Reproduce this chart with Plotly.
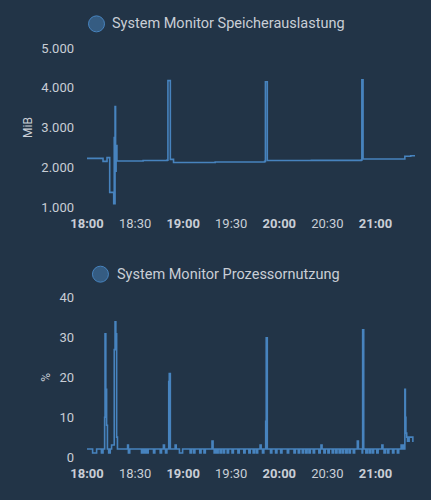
import plotly.graph_objs as go

DAY = "2024-01-01 "
BG = "#223447"
LINE_BLUE = "#4783be"
TEXT = "#c9ced6"

# memory usage (MiB)
MEM_TIME = ["18:00:00", "18:10:00", "18:12:30", "18:14:10", "18:16:40", "18:17:00", "18:17:10",
            "18:17:30", "18:17:50", "18:18:10", "18:18:40", "18:35:00", "18:50:00", "18:50:30",
            "18:52:00", "18:54:00", "19:20:00", "19:50:50", "19:51:20", "19:52:30", "20:20:00",
            "20:51:00", "20:51:30", "20:52:15", "21:18:20", "21:22:00", "21:24:40"]
MEM_VALUE = [2225, 2150, 2245, 1370, 1085, 2750, 1085,
             3530, 1900, 2550, 2160, 2170, 2180, 4180,
             2200, 2120, 2135, 2150, 4150, 2170, 2175,
             2180, 4200, 2210, 2280, 2290, 2300]

# processor usage (%)
CPU_TIME = ["18:00:00", "18:03:30", "18:06:00", "18:09:00", "18:10:00", "18:11:00", "18:11:15",
            "18:11:45", "18:12:15", "18:12:45", "18:13:30", "18:14:30", "18:15:20", "18:17:00",
            "18:17:30", "18:18:00", "18:18:30", "18:19:00", "18:25:20", "18:25:50", "18:26:40",
            "18:34:00", "18:34:50", "18:35:40", "18:36:30", "18:37:20", "18:38:10", "18:41:30",
            "18:42:20", "18:45:40", "18:46:30", "18:47:40", "18:48:20", "18:49:00", "18:49:50",
            "18:51:00", "18:51:20", "18:52:00", "18:55:00", "18:55:40", "18:57:40", "18:59:40",
            "19:04:20", "19:05:10", "19:06:30", "19:07:20", "19:10:20", "19:11:10", "19:13:00",
            "19:13:50", "19:18:00", "19:18:40", "19:19:20", "19:20:10", "19:21:00", "19:21:50",
            "19:23:00", "19:23:50", "19:25:00", "19:25:50", "19:27:30", "19:28:20", "19:30:30",
            "19:31:20", "19:34:10", "19:35:00", "19:37:50", "19:38:40", "19:41:00", "19:41:50",
            "19:43:40", "19:44:30", "19:45:40", "19:46:30", "19:48:00", "19:48:40", "19:49:30",
            "19:50:20", "19:51:30", "19:51:50", "19:52:30", "19:54:30", "19:55:20", "19:57:40",
            "19:58:30", "20:00:50", "20:01:40", "20:05:00", "20:05:50", "20:09:10", "20:10:00",
            "20:11:50", "20:12:40", "20:14:20", "20:15:10", "20:16:30", "20:17:20", "20:18:30",
            "20:19:20", "20:21:10", "20:22:00", "20:24:40", "20:25:30", "20:26:00", "20:26:40",
            "20:27:50", "20:28:40", "20:30:20", "20:31:10", "20:33:00", "20:33:50", "20:35:10",
            "20:36:00", "20:37:20", "20:38:10", "20:39:20", "20:40:10", "20:41:30", "20:42:20",
            "20:43:30", "20:44:20", "20:46:10", "20:47:00", "20:48:40", "20:49:20", "20:51:40",
            "20:52:00", "20:52:40", "20:54:00", "20:54:50", "20:56:00", "20:56:50", "20:58:00",
            "20:58:50", "21:00:50", "21:01:40", "21:04:00", "21:04:40", "21:05:20", "21:06:10",
            "21:07:30", "21:08:20", "21:10:40", "21:11:30", "21:13:40", "21:14:30", "21:16:00",
            "21:16:40", "21:17:20", "21:17:50", "21:18:20", "21:18:40", "21:19:00", "21:19:30",
            "21:20:00", "21:21:00", "21:23:20", "21:23:50", "21:24:40"]
CPU_VALUE = [2, 1, 2, 1, 2, 10, 31,
             17, 8, 2, 1, 2, 3, 27,
             34, 31, 5, 2, 3, 1, 2,
             1, 2, 1, 2, 1, 2, 1,
             2, 1, 2, 3, 2, 1, 2,
             19, 21, 2, 3, 2, 1, 2,
             1, 2, 1, 2, 1, 2, 1,
             2, 4, 2, 1, 2, 1, 2,
             1, 2, 1, 2, 1, 2, 1,
             2, 1, 2, 1, 2, 1, 2,
             1, 2, 1, 2, 3, 2, 1,
             2, 9, 30, 2, 1, 2, 1,
             2, 1, 2, 1, 2, 1, 2,
             1, 2, 1, 2, 1, 2, 1,
             2, 1, 2, 1, 2, 3, 2,
             1, 2, 1, 2, 1, 2, 1,
             2, 1, 2, 1, 2, 1, 2,
             1, 2, 1, 2, 4, 2, 1,
             32, 2, 1, 2, 1, 2, 1,
             2, 1, 2, 3, 2, 1, 2,
             1, 2, 1, 2, 1, 2, 3,
             2, 3, 2, 17, 10, 6,
             5, 4, 5, 4, 4]

TICK_VALS = ["18:00:00", "18:30:00", "19:00:00", "19:30:00", "20:00:00", "20:30:00", "21:00:00"]
TICK_TEXT = ["<b>18:00</b>", "18:30", "<b>19:00</b>", "19:30", "<b>20:00</b>", "20:30", "<b>21:00</b>"]

MEM_TICKS = [1000, 2000, 3000, 4000, 5000]
MEM_TICK_TEXT = ["1.000", "2.000", "3.000", "4.000", "5.000"]
CPU_TICKS = [0, 10, 20, 30, 40]

X_RANGE = [DAY + "18:00:00", DAY + "21:24:40"]

fig = go.Figure()

fig.add_trace(go.Scatter(x=[DAY + t for t in MEM_TIME], y=MEM_VALUE, mode="lines",
                         line=dict(color=LINE_BLUE, width=1.6, shape="hv"),
                         xaxis="x", yaxis="y", showlegend=False, name="System Monitor Speicherauslastung"))
fig.add_trace(go.Scatter(x=[DAY + t for t in CPU_TIME], y=CPU_VALUE, mode="lines",
                         line=dict(color=LINE_BLUE, width=1.6, shape="hv"),
                         xaxis="x2", yaxis="y2", showlegend=False, name="System Monitor Prozessornutzung"))

xaxis_common = dict(range=X_RANGE, tickvals=[DAY + t for t in TICK_VALS], ticktext=TICK_TEXT,
                    showgrid=False, zeroline=False, showline=False, ticks="",
                    ticklabelstandoff=7, tickfont=dict(size=13, color=TEXT))
yaxis_common = dict(showgrid=False, zeroline=False, showline=False, ticks="",
                    ticklabelstandoff=12, tickfont=dict(size=13, color=TEXT))

fig.update_layout(
    width=431, height=500,
    paper_bgcolor=BG, plot_bgcolor=BG,
    font=dict(family="Roboto", color=TEXT),
    margin=dict(l=87, r=16, t=48, b=43),
    xaxis=dict(domain=[0, 1], anchor="y", **xaxis_common),
    xaxis2=dict(domain=[0, 1], anchor="y2", **xaxis_common),
    yaxis=dict(domain=[0.611, 1], anchor="x", range=[1000, 5000], tickvals=MEM_TICKS,
               ticktext=MEM_TICK_TEXT, title=dict(text="MiB", font=dict(size=12, color=TEXT), standoff=6),
               **yaxis_common),
    yaxis2=dict(domain=[0, 0.389], anchor="x2", range=[0, 40], tickvals=CPU_TICKS,
                title=dict(text="%", font=dict(size=12, color=TEXT), standoff=6),
                **yaxis_common),
    annotations=[
        dict(text="System Monitor Speicherauslastung", xref="paper", yref="paper",
             x=0.07, y=1.059, xanchor="left", yanchor="middle", showarrow=False,
             font=dict(size=14.5, color=TEXT)),
        dict(text="System Monitor Prozessornutzung", xref="paper", yref="paper",
             x=0.085, y=0.447, xanchor="left", yanchor="middle", showarrow=False,
             font=dict(size=14.5, color=TEXT)),
    ],
    shapes=[
        dict(type="circle", xref="paper", yref="paper", xsizemode="pixel", ysizemode="pixel",
             xanchor=0.029, yanchor=1.059, x0=-8, x1=8, y0=-8, y1=8,
             fillcolor="rgba(71,131,190,0.5)", line=dict(color=LINE_BLUE, width=1)),
        dict(type="circle", xref="paper", yref="paper", xsizemode="pixel", ysizemode="pixel",
             xanchor=0.041, yanchor=0.447, x0=-8, x1=8, y0=-8, y1=8,
             fillcolor="rgba(71,131,190,0.5)", line=dict(color=LINE_BLUE, width=1)),
    ],
)

# the page body has a default 8px margin; drop it so the chart sits at the window corner
fig.write_html("out.html", config={"displayModeBar": False},
               post_script="document.body.style.margin='0';document.body.style.background='%s';" % BG)
